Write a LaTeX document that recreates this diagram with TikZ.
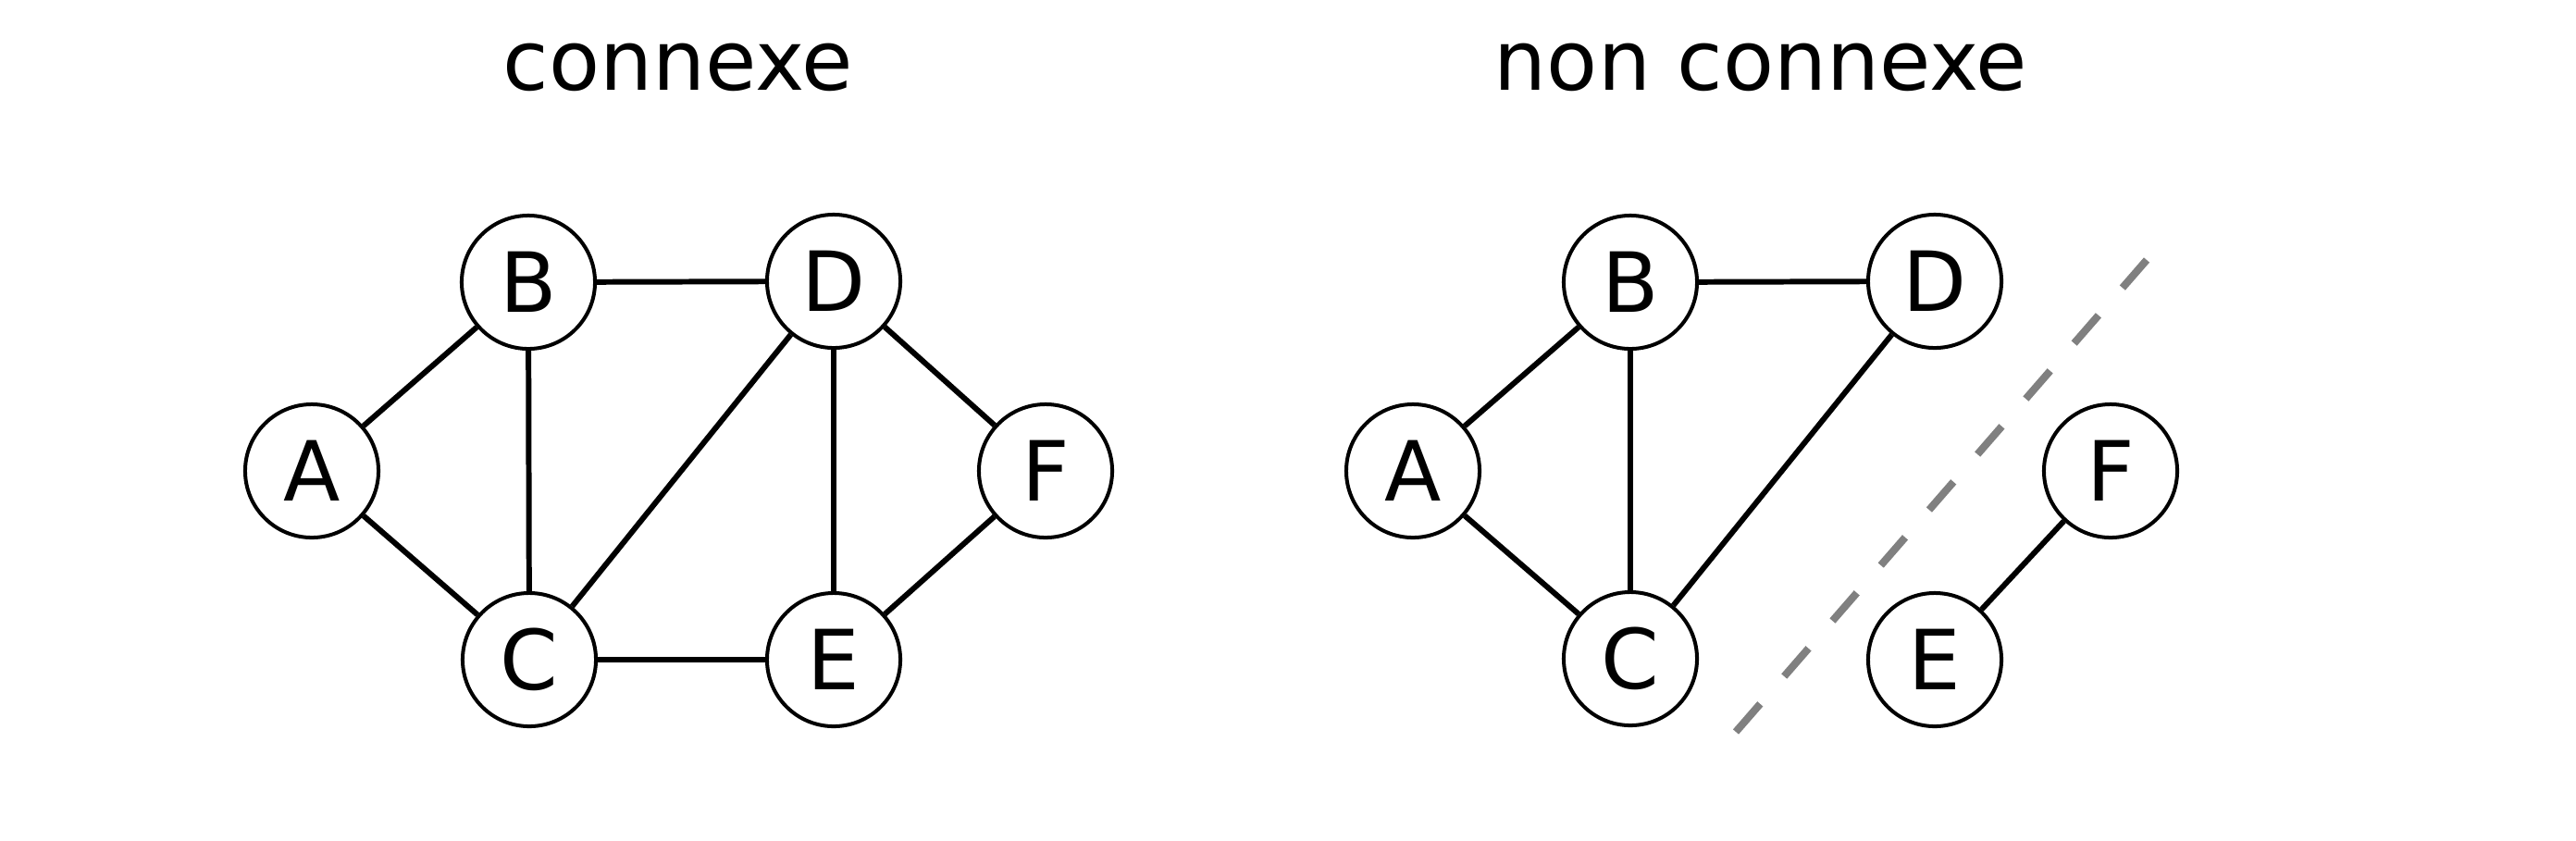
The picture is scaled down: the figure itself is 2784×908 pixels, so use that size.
\documentclass[tikz,border=0pt]{standalone}
\usepackage{fontspec}
\setmainfont{DejaVu Sans}
\begin{document}
\begin{tikzpicture}[x=0.01cm,y=-0.01cm,
  vertex/.style={circle,draw=black,line width=1.14pt,fill=white,minimum size=1.44cm,inner sep=0pt,font=\fontsize{25.5}{30}\selectfont},
  edge/.style={line width=1.7pt},
  title/.style={anchor=base,inner sep=0pt,font=\fontsize{25.6}{30}\selectfont},
  cut/.style={draw=gray,line width=2.3pt,dash pattern=on 11.38pt off 11.24pt}]
\fill[white] (0,0) rectangle (2784,908);
\useasboundingbox (0,0) rectangle (2784,908);
% titles
\node[title] (t1) at (733,97) {connexe};
\node[title] (t2) at (1903,97) {non connexe};
% left graph
\node[vertex] (A1) at (337,509) {A};
\node[vertex] (B1) at (571,305) {B};
\node[vertex] (C1) at (572,713) {C};
\node[vertex] (D1) at (901,304) {D};
\node[vertex] (E1) at (901,713) {E};
\node[vertex] (F1) at (1130,509) {F};
\draw[edge] (A1) -- (B1);
\draw[edge] (A1) -- (C1);
\draw[edge] (B1) -- (C1);
\draw[edge] (B1) -- (D1);
\draw[edge] (C1) -- (D1);
\draw[edge] (C1) -- (E1);
\draw[edge] (D1) -- (E1);
\draw[edge] (D1) -- (F1);
\draw[edge] (E1) -- (F1);
% right graph
\node[vertex] (A2) at (1527,509) {A};
\node[vertex] (B2) at (1762,305) {B};
\node[vertex] (C2) at (1762,712) {C};
\node[vertex] (D2) at (2091,304) {D};
\node[vertex] (E2) at (2091,713) {E};
\node[vertex] (F2) at (2281,509) {F};
\draw[edge] (A2) -- (B2);
\draw[edge] (A2) -- (C2);
\draw[edge] (B2) -- (C2);
\draw[edge] (B2) -- (D2);
\draw[edge] (C2) -- (D2);
\draw[edge] (E2) -- (F2);
% cut line
\coordinate (s1) at (1876,791);
\coordinate (s2) at (2320,281);
\draw[cut] (s1) -- (s2);
\end{tikzpicture}
\end{document}
